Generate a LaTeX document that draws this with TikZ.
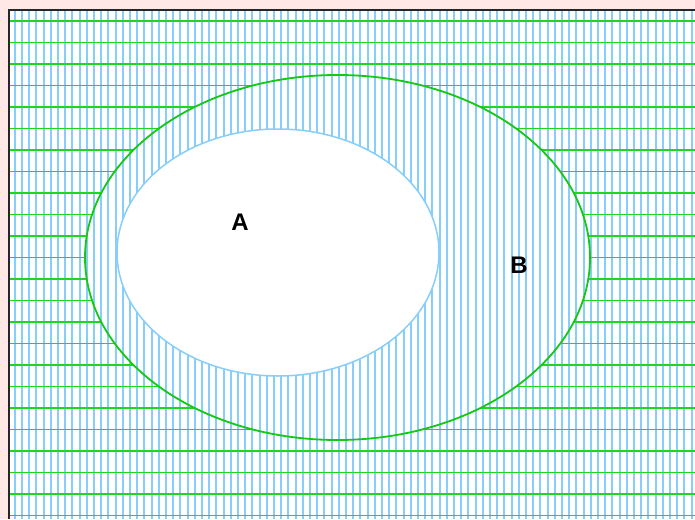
\documentclass[tikz,border=0pt]{standalone}
\usepackage{fontspec}
\setsansfont{Liberation Sans}
\definecolor{bgpink}{RGB}{255,232,230}
\definecolor{gridblue}{RGB}{135,206,250}
\definecolor{gridgreen}{RGB}{30,215,30}
\definecolor{edgegreen}{RGB}{20,200,20}
\tikzset{
  vline/.style={draw=gridblue, line width=2pt},
  hline/.style={draw=gridgreen, line width=1.5pt},
  setlabel/.style={font=\sffamily\bfseries\fontsize{24}{24}\selectfont, inner sep=0pt}
}
\begin{document}
\begin{tikzpicture}[x=1pt,y=-1pt]
\useasboundingbox (0,0) rectangle (695,519);
\fill[bgpink] (0,0) rectangle (695,519);
\fill[white] (9,10) rectangle (695,519);
% vertical blue lines everywhere
\foreach \i in {0,...,94} \draw[vline] (14.7+7.2*\i,10) -- (14.7+7.2*\i,519);
% horizontal green lines
\foreach \j in {0,...,23} \draw[hline] (9,21+21.5*\j) -- (695,21+21.5*\j);
% inside B: only vertical lines
\fill[white] (337.5,257.5) ellipse [x radius=252.5, y radius=182.5];
\begin{scope}
\clip (337.5,257.5) ellipse [x radius=252.5, y radius=182.5];
\foreach \i in {0,...,94} \draw[vline] (14.7+7.2*\i,10) -- (14.7+7.2*\i,519);
\end{scope}
% inside A: white
\fill[white] (278,252.5) ellipse [x radius=161, y radius=123.5];
\draw[gridblue, line width=1.5pt] (278,252.5) ellipse [x radius=161, y radius=123.5];
\draw[edgegreen, line width=1.8pt] (337.5,257.5) ellipse [x radius=252.5, y radius=182.5];
% frame
\draw[black!85, line width=2pt] (9,519) -- (9,10) -- (695,10);
\node[setlabel] (A) at (240,222) {A};
\node[setlabel] (B) at (519,265) {B};
\end{tikzpicture}
\end{document}
